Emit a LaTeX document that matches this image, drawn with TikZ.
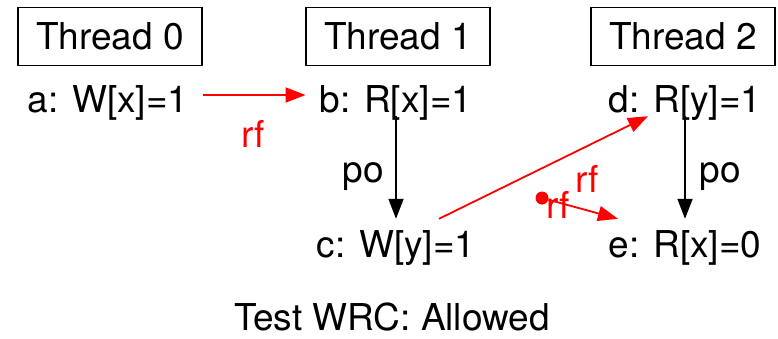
\documentclass[tikz,border=0pt]{standalone}
\usepackage{fontspec}
\setmainfont{TeX Gyre Heros}
\usetikzlibrary{arrows.meta, positioning}

\begin{document}
\begin{tikzpicture}[x=1pt, y=-1pt,
    every node/.style = {font=\fontsize{37}{44}\selectfont},
    thread/.style = {draw, line width=1.2pt, minimum width=184pt, minimum height=58pt, inner sep=0pt},
    event/.style = {anchor=base, text height=34pt, text depth=0pt, inner xsep=14pt, inner ysep=4pt},
    lbl/.style = {anchor=base, inner sep=0pt},
    po/.style = {-{Triangle[length=20pt, width=15pt]}, line width=1.8pt},
    rf/.style = {po, red}]
        \useasboundingbox (0,0) rectangle (778,338);
        % threads
        \node[thread] (t0) at (110,36.5) {Thread 0};
        \node[thread] (t1) at (398,36.5) {Thread 1};
        \node[thread] (t2) at (683,36.5) {Thread 2};
        % events
        \node[event] (a) at (108,112) {a: W[x]=1};
        \node[event] (b) at (396,112) {b: R[x]=1};
        \node[event] (c) at (396,257) {c: W[y]=1};
        \node[event] (d) at (685,112) {d: R[y]=1};
        \node[event] (e) at (685,257) {e: R[x]=0};
        \node[circle, fill=red, minimum size=13pt, inner sep=0pt] (init) at (542,198) {};
        % edges
        \draw[rf] (a) -- (b);
        \draw[po] (b) -- (c);
        \draw[po] (d) -- (e);
        \draw[rf] ([xshift=43pt]c.north) -- ([xshift=-37pt]d.south);
        \draw[rf] (init) -- ([xshift=-67pt]e.north);
        % edge labels
        \node[lbl, red] (rf1) at (253,147) {rf};
        \node[lbl] (po1) at (363,182) {po};
        \node[lbl] (po2) at (720,182) {po};
        \node[lbl, red] (rf2) at (587,192) {rf};
        \node[lbl, red] (rf3) at (558,218) {rf};
        \node[anchor=base] (title) at (392,330) {Test WRC: Allowed};
    \end{tikzpicture}
\end{document}
